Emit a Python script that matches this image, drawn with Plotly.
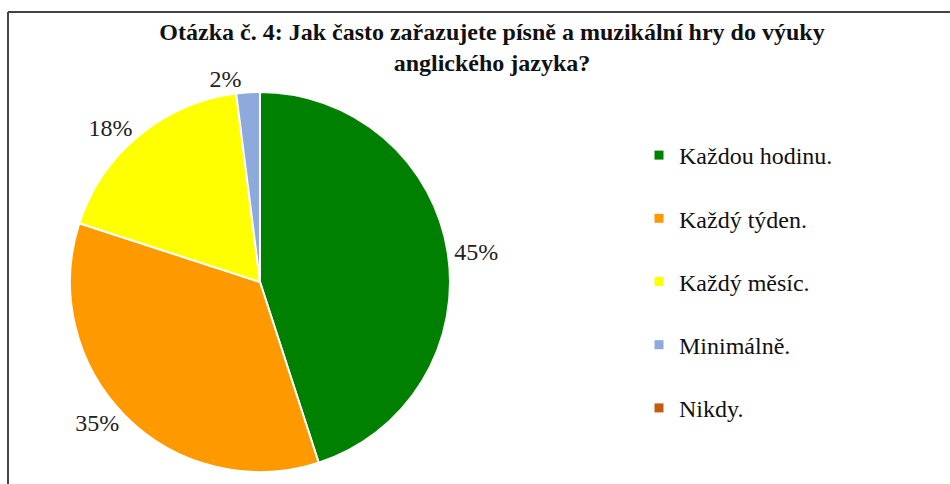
import plotly.graph_objects as go

categories = ["Každou hodinu.", "Každý týden.", "Každý měsíc.", "Minimálně.", "Nikdy."]
values = [45, 35, 18, 2, 0]
labels_text = ["45%", "35%", "18%", "2%", ""]
colors = ["#008000", "#FF9900", "#FFFF00", "#8EA9DB", "#C55A11"]

W, H = 950, 484
cx, cy, r = 260, 282, 190
SERIF = "Liberation Serif"

fig = go.Figure()
fig.add_trace(go.Pie(
    labels=categories,
    values=values,
    text=labels_text,
    textinfo="text",
    textposition="outside",
    textfont=dict(family=SERIF, size=24, color="#222222"),
    marker=dict(colors=colors, line=dict(color="white", width=2)),
    sort=False,
    direction="clockwise",
    rotation=0,
    showlegend=False,
    domain=dict(x=[(cx - r) / W, (cx + r) / W], y=[(H - cy - r) / H, (H - cy + r) / H]),
    hoverinfo="label+percent",
))

# legend entries (one group per category, to get the wide spacing)
for cat, col in zip(categories, colors):
    fig.add_trace(go.Scatter(
        x=[None], y=[None], mode="markers", name=cat,
        marker=dict(symbol="square", size=9, color=col),
        legendgroup=cat, showlegend=True, hoverinfo="skip",
    ))

fig.update_layout(
    width=W, height=H,
    margin=dict(l=0, r=0, t=0, b=0),
    paper_bgcolor="white",
    plot_bgcolor="white",
    xaxis=dict(visible=False),
    yaxis=dict(visible=False),
    title=dict(
        text="<b>Otázka č. 4: Jak často zařazujete písně a muzikální hry do výuky<br>anglického jazyka?</b>",
        font=dict(family=SERIF, size=24, color="#111111"),
        x=492 / W, xanchor="center", y=1 - 40 / H, yanchor="top",
    ),
    legend=dict(
        x=639 / W, xanchor="left", y=1 - 133 / H, yanchor="top",
        font=dict(family=SERIF, size=24, color="#111111"),
        tracegroupgap=29,
        bgcolor="rgba(0,0,0,0)",
    ),
    shapes=[
        dict(type="line", xref="paper", yref="paper", x0=8 / W, x1=8 / W, y0=-0.05, y1=1 - 12 / H,
             line=dict(color="#444444", width=2)),
        dict(type="line", xref="paper", yref="paper", x0=8 / W, x1=1.05, y0=1 - 12 / H, y1=1 - 12 / H,
             line=dict(color="#444444", width=2)),
    ],
)

fig.write_html("out.html", config={"displayModeBar": False},
               post_script="document.body.style.margin='0';")
